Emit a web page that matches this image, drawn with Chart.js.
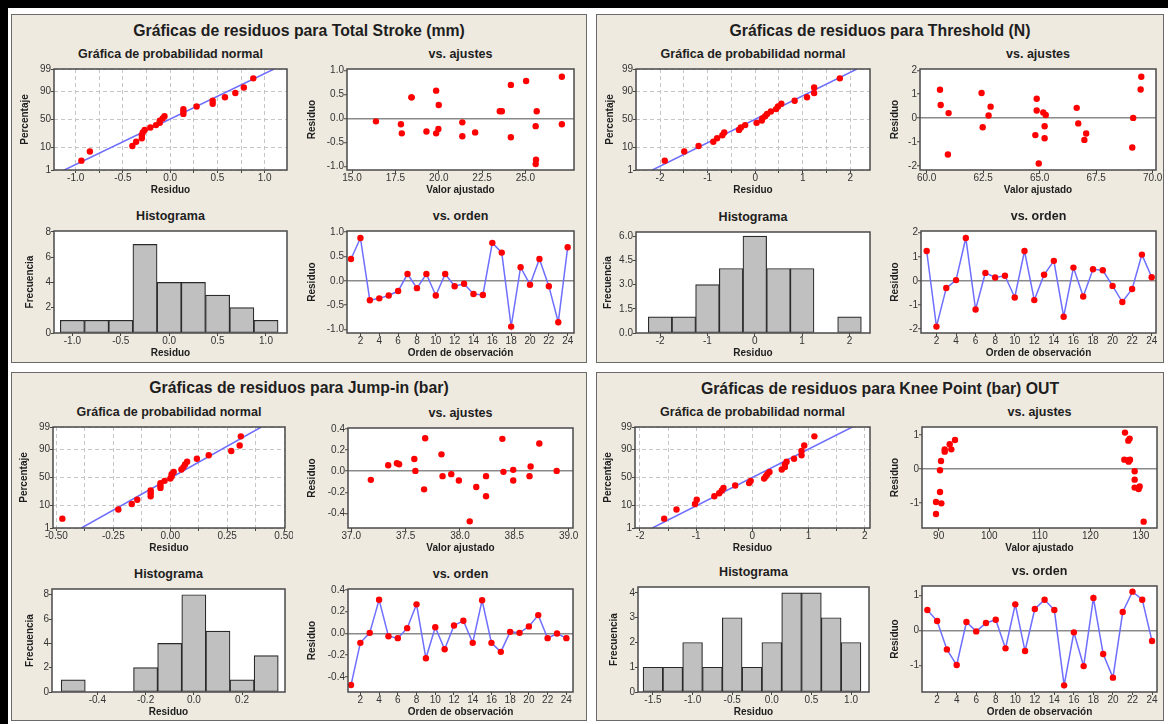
<!DOCTYPE html>
<html lang="es">
<head>
<meta charset="utf-8">
<title>Gráficas de residuos</title>
<script src="https://cdn.jsdelivr.net/npm/chart.js@4.4.1/dist/chart.umd.min.js"></script>
<style>
  html, body { margin: 0; padding: 0; background: #fff; }
  body { width: 1168px; height: 724px; position: relative; overflow: hidden;
         font-family: "Liberation Sans", Arial, sans-serif; }
  .band { position: absolute; background: #000; }
  .panel { position: absolute; background: #efeae0; border: 1px solid #6a6a6a; box-sizing: border-box; }
  .ptitle, .stitle { position: absolute; font-weight: bold; color: #1e1e1e; white-space: nowrap;
                     transform: translate(-50%, -50%); }
  .ptitle { font-size: 15.8px; }
  .stitle { font-size: 12.5px; }
  canvas { position: absolute; }
</style>
</head>
<body>
<div class="band" style="left:0;top:0;width:1168px;height:8px"></div>
<div class="band" style="left:0;top:0;width:8px;height:724px"></div>
<script>
// ---------- data ----------
// plotting positions (median ranks, %) for 24 residuals
const probPct = [2.9, 7.0, 11.1, 15.2, 19.3, 23.4, 27.5, 31.6, 35.7, 39.8, 43.9, 48.0,
                 52.0, 56.1, 60.2, 64.3, 68.4, 72.5, 76.6, 80.7, 84.8, 88.9, 93.0, 97.1];
const probTicks = [1, 10, 50, 90, 99];
const obsNum = [1, 2, 3, 4, 5, 6, 7, 8, 9, 10, 11, 12, 13, 14, 15, 16, 17, 18, 19, 20, 21, 22, 23, 24];
const obsTicks = [2, 4, 6, 8, 10, 12, 14, 16, 18, 20, 22, 24];

// Total Stroke (mm)
const tsResid = [0.45, 0.88, -0.40, -0.36, -0.30, -0.21, 0.14, -0.15, 0.14, -0.30, 0.14, -0.11,
                 -0.06, -0.27, -0.29, 0.78, 0.58, -0.94, 0.28, -0.08, 0.45, -0.11, -0.85, 0.69];
const tsFitX = [16.38, 17.82, 17.87, 18.43, 18.43, 19.29, 19.85, 19.85, 19.98, 20.0, 21.36, 21.36,
                22.1, 23.52, 23.64, 24.16, 24.16, 25.04, 25.61, 25.59, 25.65, 25.59, 27.1, 27.1];
const tsFitY = [-0.06, -0.12, -0.31, 0.44, 0.44, -0.27, 0.58, -0.31, -0.22, 0.28, -0.08, -0.37,
                -0.29, 0.15, 0.15, 0.70, -0.39, 0.78, -0.86, -0.95, 0.15, -0.16, 0.87, -0.12];
const tsBins = [-1, -0.75, -0.5, -0.25, 0, 0.25, 0.5, 0.75, 1];
const tsCounts = [1, 1, 1, 7, 4, 4, 3, 2, 1];
const tsLine = [-1.12, 1.10];
const tsResTicks = [-1, -0.5, 0, 0.5, 1];
const tsFitTicks = [15, 17.5, 20, 22.5, 25];
const tsProbGrid = [-1, -0.75, -0.5, -0.25, 0, 0.25, 0.5, 0.75, 1];
const tsProbLabels = [-1, -0.5, 0, 0.5, 1];
const tsHistTicks = [-1, -0.5, 0, 0.5, 1];
const tsFreqTicks = [0, 2, 4, 6, 8];

// Threshold (N)
const thResid = [1.24, -1.90, -0.30, 0.03, 1.78, -1.19, 0.33, 0.14, 0.21, -0.69, 1.24, -0.80,
                 0.25, 0.83, -1.49, 0.55, -0.65, 0.48, 0.44, -0.21, -0.88, -0.34, 1.09, 0.15];
const thFitX = [60.59, 60.62, 60.97, 60.94, 62.43, 62.48, 62.74, 62.83, 64.87, 64.87, 64.81, 64.96,
                65.16, 65.27, 65.22, 65.22, 66.64, 66.71, 67.06, 66.98, 69.10, 69.14, 69.47, 69.50];
const thFitY = [1.19, 0.55, 0.21, -1.52, 1.05, -0.38, 0.11, 0.48, 0.81, 0.32, -0.71, -1.90,
                0.24, 0.13, -0.34, -0.84, 0.43, -0.22, -0.64, -0.91, -1.23, 0.01, 1.20, 1.73];
const thBins = [-2, -1.5, -1, -0.5, 0, 0.5, 1, 1.5, 2];
const thCounts = [1, 1, 3, 4, 6, 4, 4, 0, 1];
const thLine = [-2.16, 2.14];
const thResTicks = [-2, -1, 0, 1, 2];
const thFitTicks = [60, 62.5, 65, 67.5, 70];
const thProbGrid = [-2, -1.5, -1, -0.5, 0, 0.5, 1, 1.5, 2];
const thProbLabels = [-2, -1, 0, 1, 2];
const thHistTicks = [-2, -1, 0, 1, 2];
const thFreqTicks = [0, 1.5, 3, 4.5, 6];

// Jump-in (bar)
const jiResid = [-0.474, -0.086, 0.006, 0.31, -0.025, -0.043, 0.049, 0.268, -0.228, 0.058, -0.145, 0.074,
                 0.117, -0.086, 0.305, -0.086, -0.169, 0.015, 0.006, 0.065, 0.169, -0.043, 0.0, -0.043];
const jiFitX = [37.18, 37.34, 37.42, 37.44, 37.58, 37.59, 37.67, 37.68, 37.83, 37.84, 37.92, 37.99,
                38.09, 38.15, 38.24, 38.24, 38.39, 38.40, 38.49, 38.49, 38.64, 38.65, 38.73, 38.89];
const jiFitY = [-0.082, 0.056, 0.075, 0.066, 0.116, 0.003, -0.172, 0.313, 0.16, -0.047, -0.028, -0.088,
                -0.476, -0.15, -0.238, -0.047, 0.307, -0.006, 0.013, -0.088, -0.047, 0.044, 0.263, 0.003];
const jiBins = [-0.5, -0.4, -0.3, -0.2, -0.1, 0, 0.1, 0.2, 0.3];
const jiCounts = [1, 0, 0, 2, 4, 8, 5, 1, 3];
const jiLine = [-0.39, 0.40];
const jiResTicks = [-0.4, -0.2, 0, 0.2, 0.4];
const jiFitTicks = [37, 37.5, 38, 38.5, 39];
const jiProbGrid = [-0.5, -0.375, -0.25, -0.125, 0, 0.125, 0.25, 0.375, 0.5];
const jiProbLabels = [-0.5, -0.25, 0, 0.25, 0.5];
const jiHistTicks = [-0.4, -0.2, 0, 0.2];
const jiFreqTicks = [0, 2, 4, 6, 8];

// Knee Point (bar) OUT
const kpResid = [0.58, 0.267, -0.543, -0.99, 0.238, -0.029, 0.21, 0.305, -0.514, 0.743, -0.59, 0.61,
                 0.876, 0.58, -1.57, -0.057, -1.02, 0.924, -0.676, -1.35, 0.524, 1.105, 0.876, -0.305];
const kpFitX = [89.47, 89.47, 90.53, 90.26, 90.26, 90.46, 91.19, 91.19, 92.18, 92.5, 93.23, 126.85,
                126.72, 127.5, 127.57, 127.5, 127.77, 127.84, 128.76, 128.76, 128.76, 129.55, 129.75, 130.54];
const kpFitY = [-1.33, -0.975, -1.015, -0.68, -0.04, 0.236, 0.575, 0.512, 0.73, 0.58, 0.857, 1.074,
                0.276, 0.256, 0.217, 0.837, 0.897, 0.276, -0.069, -0.315, -0.55, -0.59, -0.52, -1.556];
const kpBins = [-1.5, -1.25, -1, -0.75, -0.5, -0.25, 0, 0.25, 0.5, 0.75, 1];
const kpCounts = [1, 1, 2, 1, 3, 1, 2, 4, 4, 3, 2];
const kpLine = [-1.78, 1.78];
const kpResTicks = [-1, 0, 1];
const kpFitTicks = [90, 100, 110, 120, 130];
const kpProbGrid = [-2, -1.5, -1, -0.5, 0, 0.5, 1, 1.5, 2];
const kpProbLabels = [-2, -1, 0, 1, 2];
const kpHistTicks = [-1.5, -1, -0.5, 0, 0.5, 1];
const kpFreqTicks = [0, 1, 2, 3, 4];

// ---------- layout: plot areas [left, top, right, bottom, y-title gap] ----------
const PANELS = [
  { title: 'Gráficas de residuos para Total Stroke (mm)', box: [11, 14, 587, 363], titleY: 31,
    prob: [54, 69, 287, 170, 29], fit: [347, 69, 574, 170, 35], hist: [54, 231, 287, 333, 24], ord: [347, 231, 574, 333, 35],
    resid: tsResid, fitX: tsFitX, fitY: tsFitY, bins: tsBins, counts: tsCounts, line: tsLine,
    resTicks: tsResTicks, resDec: 1, fitTicks: tsFitTicks, fitDec: 1, probGrid: tsProbGrid, probLabels: tsProbLabels, probDec: 1,
    histTicks: tsHistTicks, histDec: 1, freqTicks: tsFreqTicks, freqDec: 0,
    rng: { probX: [-1.23, 1.237], fitX: [14.71, 27.8], fitY: [-1.073, 1.031], histX: [-1.19, 1.217], freqMax: 8.06,
           ordX: [0.575, 24.67], ordY: [-1.072, 1.024] } },
  { title: 'Gráficas de residuos para Threshold (N)', box: [596, 14, 1164, 363], titleY: 31,
    prob: [636, 69, 870, 170, 26], fit: [920, 69, 1156, 170, 25], hist: [636, 232, 870, 333, 28], ord: [921, 231, 1156, 333, 26],
    resid: thResid, fitX: thFitX, fitY: thFitY, bins: thBins, counts: thCounts, line: thLine,
    resTicks: thResTicks, resDec: 0, fitTicks: thFitTicks, fitDec: 1, probGrid: thProbGrid, probLabels: thProbLabels, probDec: 0,
    histTicks: thHistTicks, histDec: 0, freqTicks: thFreqTicks, freqDec: 1,
    rng: { probX: [-2.505, 2.414], fitX: [59.705, 70.15], fitY: [-2.17, 2.056], histX: [-2.509, 2.433], freqMax: 6.26,
           ordX: [0.42, 24.44], ordY: [-2.166, 2.07] } },
  { title: 'Gráficas de residuos para Jump-in (bar)', box: [11, 372, 587, 721], titleY: 388,
    prob: [53, 427, 285, 528, 29], fit: [348, 428, 573, 528, 36], hist: [52, 589, 285, 692, 22], ord: [348, 589, 573, 692, 36],
    resid: jiResid, fitX: jiFitX, fitY: jiFitY, bins: jiBins, counts: jiCounts, line: jiLine,
    resTicks: jiResTicks, resDec: 1, fitTicks: jiFitTicks, fitDec: 1, probGrid: jiProbGrid, probLabels: jiProbLabels, probDec: 2,
    histTicks: jiHistTicks, histDec: 1, freqTicks: jiFreqTicks, freqDec: 0,
    rng: { probX: [-0.515, 0.504], fitX: [36.97, 39.04], fitY: [-0.539, 0.41], histX: [-0.588, 0.378], freqMax: 8.47,
           ordX: [0.68, 24.71], ordY: [-0.538, 0.409] } },
  { title: 'Gráficas de residuos para Knee Point (bar) OUT', box: [596, 372, 1164, 721], titleY: 389,
    prob: [635, 427, 870, 528, 27], fit: [922, 427, 1157, 528, 27], hist: [638, 587, 869, 692, 24], ord: [922, 586, 1157, 692, 27],
    resid: kpResid, fitX: kpFitX, fitY: kpFitY, bins: kpBins, counts: kpCounts, line: kpLine,
    resTicks: kpResTicks, resDec: 0, fitTicks: kpFitTicks, fitDec: 0, probGrid: kpProbGrid, probLabels: kpProbLabels, probDec: 0,
    histTicks: kpHistTicks, histDec: 1, freqTicks: kpFreqTicks, freqDec: 0,
    rng: { probX: [-2.089, 2.095], fitX: [86.7, 133.18], fitY: [-1.744, 1.24], histX: [-1.689, 1.227], freqMax: 4.24,
           ordX: [0.45, 24.51], ordY: [-1.76, 1.267] } }
];

const FONT = '"Liberation Sans", Arial, sans-serif';
const PAD_L = 50, PAD_T = 6, PAD_R = 8, PAD_B = 30;
const RED = '#ff0000', BLUE = '#6e6eff';

// inverse normal cdf (Acklam) - used as the probability-scale transform
function probit(p) {
  const a = [-39.69683028665376, 220.9460984245205, -275.9285104469687, 138.3577518672690, -30.66479806614716, 2.506628277459239];
  const b = [-54.47609879822406, 161.5858368580409, -155.6989798598866, 66.80131188771972, -13.28068155288572];
  const c = [-0.007784894002430293, -0.3223964580411365, -2.400758277161838, -2.549732539343734, 4.374664141464968, 2.938163982698783];
  const d = [0.007784695709041462, 0.3224671290700398, 2.445134137142996, 3.754408661907416];
  const lo = 0.02425;
  if (p < lo) {
    const q = Math.sqrt(-2 * Math.log(p));
    return (((((c[0]*q+c[1])*q+c[2])*q+c[3])*q+c[4])*q+c[5]) / ((((d[0]*q+d[1])*q+d[2])*q+d[3])*q+1);
  }
  if (p > 1 - lo) return -probit(1 - p);
  const q = p - 0.5, r = q * q;
  return (((((a[0]*r+a[1])*r+a[2])*r+a[3])*r+a[4])*r+a[5])*q / (((((b[0]*r+b[1])*r+b[2])*r+b[3])*r+b[4])*r+1);
}

// white plot area + dark frame
const plotBox = {
  id: 'plotBox',
  beforeDraw(chart) {
    const { ctx, chartArea: a } = chart;
    ctx.save();
    ctx.fillStyle = '#fff';
    ctx.fillRect(a.left, a.top, a.width, a.height);
    ctx.restore();
  },
  afterDraw(chart) {
    const { ctx, chartArea: a } = chart;
    ctx.save();
    ctx.strokeStyle = '#4a4a4a';
    ctx.lineWidth = 1.5;
    ctx.strokeRect(a.left, a.top, a.width, a.height);
    ctx.restore();
  }
};

function within(list, v) {
  return list.some((l) => Math.abs(l - v) < 1e-9);
}

function scale(pos, s, gap) {
  const horiz = pos === 'bottom';
  return {
    type: 'linear', position: pos, min: s.min, max: s.max, offset: false,
    afterBuildTicks: (sc) => { sc.ticks = s.ticks.map((v) => ({ value: v })); },
    afterFit: (sc) => {
      if (horiz) sc.height = PAD_B; else sc.width = PAD_L;
      sc.paddingLeft = sc.paddingRight = sc.paddingTop = sc.paddingBottom = 0;
    },
    ticks: {
      autoSkip: false, maxRotation: 0, minRotation: 0, padding: 0,
      color: '#333', font: { family: FONT, size: 10, lineHeight: 1 },
      callback: (v, i) => s.label(v, i)
    },
    grid: {
      offset: false,
      drawOnChartArea: s.grid !== 'none',
      color: s.grid === 'zero'
        ? (c) => (c.tick && Math.abs(c.tick.value) < 1e-9 ? '#8a8a8a' : 'rgba(0,0,0,0)')
        : '#c6c6c6',
      lineWidth: s.grid === 'zero' ? 1.5 : 1,
      drawTicks: true, tickLength: 3, tickColor: '#444', tickWidth: 1, tickBorderDash: []
    },
    border: { display: false, dash: s.grid === 'dash' ? [4, 3] : [] },
    title: {
      display: true, text: s.title, color: '#1e1e1e',
      font: { family: FONT, size: 10, weight: 'bold', lineHeight: 1.2 },
      padding: horiz ? { top: 0, bottom: 3.5 } : { top: PAD_L - gap - 6, bottom: 0 }
    }
  };
}

function fmt(list, dec) {
  return (v) => (within(list, v) ? v.toFixed(dec) : '');
}

function addChart(r, type, xs, ys, datasets) {
  const [L, T, R, B, gap] = r;
  const cv = document.createElement('canvas');
  cv.width = R - L + PAD_L + PAD_R;
  cv.height = B - T + PAD_T + PAD_B;
  cv.style.left = (L - PAD_L) + 'px';
  cv.style.top = (T - PAD_T) + 'px';
  document.body.appendChild(cv);
  new Chart(cv, {
    type: type,
    data: { datasets: datasets },
    options: {
      responsive: false, animation: false, devicePixelRatio: 1,
      layout: { padding: { left: 0, top: PAD_T, right: PAD_R, bottom: 0 } },
      plugins: { legend: { display: false }, tooltip: { enabled: false }, title: { display: false } },
      scales: { x: scale('bottom', xs), y: scale('left', ys, gap) }
    },
    plugins: [plotBox]
  });
}

function addText(cls, text, x, y) {
  const el = document.createElement('div');
  el.className = cls;
  el.textContent = text;
  el.style.left = x + 'px';
  el.style.top = y + 'px';
  document.body.appendChild(el);
}

function subTitle(r, text) {
  addText('stitle', text, (r[0] + r[2]) / 2, r[1] - 15.5);
}

const redPoints = { pointRadius: 3.2, pointBackgroundColor: RED, pointBorderColor: RED, pointBorderWidth: 0 };

PANELS.forEach((p) => {
  const pn = document.createElement('div');
  pn.className = 'panel';
  pn.style.left = p.box[0] + 'px';
  pn.style.top = p.box[1] + 'px';
  pn.style.width = (p.box[2] - p.box[0]) + 'px';
  pn.style.height = (p.box[3] - p.box[1]) + 'px';
  document.body.appendChild(pn);
  addText('ptitle', p.title, (p.box[0] + p.box[2]) / 2, p.titleY);

  // normal probability plot
  const sorted = p.resid.slice().sort((a, b) => a - b);
  const zTicks = probTicks.map((t) => probit(t / 100));
  subTitle(p.prob, 'Gráfica de probabilidad normal');
  addChart(p.prob, 'scatter',
    { min: p.rng.probX[0], max: p.rng.probX[1], ticks: p.probGrid, label: fmt(p.probLabels, p.probDec), grid: 'dash', title: 'Residuo' },
    { min: probit(0.01), max: probit(0.99), ticks: zTicks, label: (v, i) => String(probTicks[i]), grid: 'dash', title: 'Percentaje' },
    [
      Object.assign({ data: sorted.map((x, i) => ({ x: x, y: probit(probPct[i] / 100) })), showLine: false }, redPoints),
      { data: [{ x: p.line[0], y: probit(0.01) }, { x: p.line[1], y: probit(0.99) }],
        showLine: true, pointRadius: 0, borderColor: BLUE, borderWidth: 1.5 }
    ]);

  // residuals vs fitted
  subTitle(p.fit, 'vs. ajustes');
  addChart(p.fit, 'scatter',
    { min: p.rng.fitX[0], max: p.rng.fitX[1], ticks: p.fitTicks, label: fmt(p.fitTicks, p.fitDec), grid: 'none', title: 'Valor ajustado' },
    { min: p.rng.fitY[0], max: p.rng.fitY[1], ticks: p.resTicks, label: fmt(p.resTicks, p.resDec), grid: 'zero', title: 'Residuo' },
    [Object.assign({ data: p.fitX.map((x, i) => ({ x: x, y: p.fitY[i] })), showLine: false }, redPoints)]);

  // histogram
  subTitle(p.hist, 'Histograma');
  addChart(p.hist, 'bar',
    { min: p.rng.histX[0], max: p.rng.histX[1], ticks: p.histTicks, label: fmt(p.histTicks, p.histDec), grid: 'none', title: 'Residuo' },
    { min: 0, max: p.rng.freqMax, ticks: p.freqTicks, label: fmt(p.freqTicks, p.freqDec), grid: 'none', title: 'Frecuencia' },
    [{ data: p.bins.map((b, i) => ({ x: b, y: p.counts[i] })),
       backgroundColor: '#c0c0c0', borderColor: '#2a2a2a', borderWidth: 1.2, borderSkipped: false,
       barPercentage: 1, categoryPercentage: 1 }]);

  // residuals vs order
  subTitle(p.ord, 'vs. orden');
  addChart(p.ord, 'scatter',
    { min: p.rng.ordX[0], max: p.rng.ordX[1], ticks: obsTicks, label: fmt(obsTicks, 0), grid: 'none', title: 'Orden de observación' },
    { min: p.rng.ordY[0], max: p.rng.ordY[1], ticks: p.resTicks, label: fmt(p.resTicks, p.resDec), grid: 'zero', title: 'Residuo' },
    [Object.assign({ data: obsNum.map((n, i) => ({ x: n, y: p.resid[i] })), showLine: true,
                     borderColor: BLUE, borderWidth: 1.5, tension: 0 }, redPoints)]);
});
</script>
</body>
</html>
